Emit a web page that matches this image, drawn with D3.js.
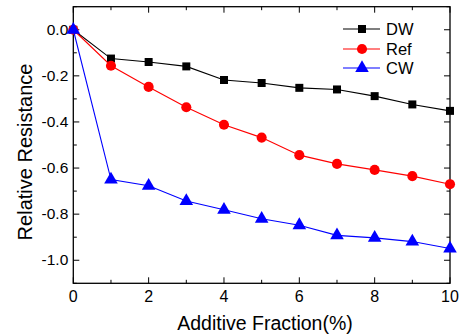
<!DOCTYPE html>
<html><head><meta charset="utf-8">
<script src="https://cdn.jsdelivr.net/npm/d3@7"></script>
<style>body{margin:0;background:#fff;} svg{display:block;font-family:"Liberation Sans",Arial,sans-serif;}</style>
</head><body>
<script>
const xValues = [0,1,2,3,4,5,6,7,8,9,10];
const dwValues = [0,-0.125,-0.140,-0.159,-0.218,-0.231,-0.252,-0.259,-0.288,-0.324,-0.352];
const refValues = [0,-0.156,-0.248,-0.336,-0.412,-0.468,-0.544,-0.582,-0.608,-0.635,-0.670];
const cwValues = [0,-0.650,-0.677,-0.743,-0.781,-0.820,-0.848,-0.892,-0.903,-0.919,-0.949];
const seriesNames = ["DW","Ref","CW"];
const seriesColors = ["#000000","#ff0000","#0000ff"];
const xTicks = [0,2,4,6,8,10];
const yTicks = [0.0,-0.2,-0.4,-0.6,-0.8,-1.0];

const W=459,H=334;
const m={l:73.3,r:9,t:6.7,b:50.7};
const svg=d3.select("body").append("svg").attr("width",W).attr("height",H);
const x=d3.scaleLinear().domain([0,10]).range([m.l,W-m.r]);
const y=d3.scaleLinear().domain([-1.1,0.1]).range([H-m.b,m.t]);

const minorX=d3.range(0,10.01,1);
const minorY=d3.range(-1.1,0.101,0.1).map(v=>+v.toFixed(2));
const g=svg.append("g");
g.append("rect").attr("x",x(0)).attr("y",y(0.1)).attr("width",x(10)-x(0)).attr("height",y(-1.1)-y(0.1))
 .attr("fill","none").attr("stroke","#000").attr("stroke-width",1.3);
const isMajX=v=>Math.abs(v%2)<1e-6;
const isMajY=v=>Math.abs(Math.round(v*10)%2)===0;
minorX.forEach(v=>{
  const L=isMajX(v)?6:3.5;
  g.append("line").attr("x1",x(v)).attr("x2",x(v)).attr("y1",y(-1.1)).attr("y2",y(-1.1)-L).attr("stroke","#000");
  g.append("line").attr("x1",x(v)).attr("x2",x(v)).attr("y1",y(0.1)).attr("y2",y(0.1)+L).attr("stroke","#000");
});
minorY.forEach(v=>{
  const L=isMajY(v)?6:3.5;
  g.append("line").attr("x1",x(0)).attr("x2",x(0)+L).attr("y1",y(v)).attr("y2",y(v)).attr("stroke","#000");
  g.append("line").attr("x1",x(10)).attr("x2",x(10)-L).attr("y1",y(v)).attr("y2",y(v)).attr("stroke","#000");
});
xTicks.forEach(v=>{
  g.append("text").attr("x",x(v)).attr("y",302).attr("text-anchor","middle").attr("font-size",16).text(d3.format("d")(v));
});
yTicks.forEach(v=>{
  g.append("text").attr("x",x(0)-5).attr("y",y(v)+5).attr("text-anchor","end").attr("font-size",15.5).text(d3.format(".1f")(v).replace("−","-"));
});
svg.append("text").attr("x",265).attr("y",330).attr("text-anchor","middle").attr("font-size",19.5).text("Additive Fraction(%)");
svg.append("text").attr("transform",`translate(32,152) rotate(-90)`).attr("text-anchor","middle").attr("font-size",20).text("Relative Resistance");

const data=[dwValues,refValues,cwValues];
const shapes=[d3.symbolSquare,d3.symbolCircle,d3.symbolTriangle];
const sizes=[64,80,80];
const line=d3.line().x((d,i)=>x(xValues[i])).y(d=>y(d));
data.forEach((vals,k)=>{
  svg.append("path").datum(vals).attr("d",line).attr("fill","none").attr("stroke",seriesColors[k]).attr("stroke-width",1.1);
  svg.selectAll(null).data(vals).enter().append("path")
    .attr("d",d3.symbol().type(shapes[k]).size(sizes[k]))
    .attr("transform",(d,i)=>`translate(${x(xValues[i])},${y(d)})`).attr("fill",seriesColors[k]);
});
const ly=[29,49,68];
seriesNames.forEach((n,k)=>{
  svg.append("line").attr("x1",343).attr("x2",380).attr("y1",ly[k]).attr("y2",ly[k]).attr("stroke",seriesColors[k]).attr("stroke-width",1.1);
  svg.append("path").attr("d",d3.symbol().type(shapes[k]).size(sizes[k])()).attr("transform",`translate(362,${ly[k]})`).attr("fill",seriesColors[k]);
  svg.append("text").attr("x",386).attr("y",ly[k]+6).attr("font-size",16.5).text(n);
});
</script>
</body></html>
